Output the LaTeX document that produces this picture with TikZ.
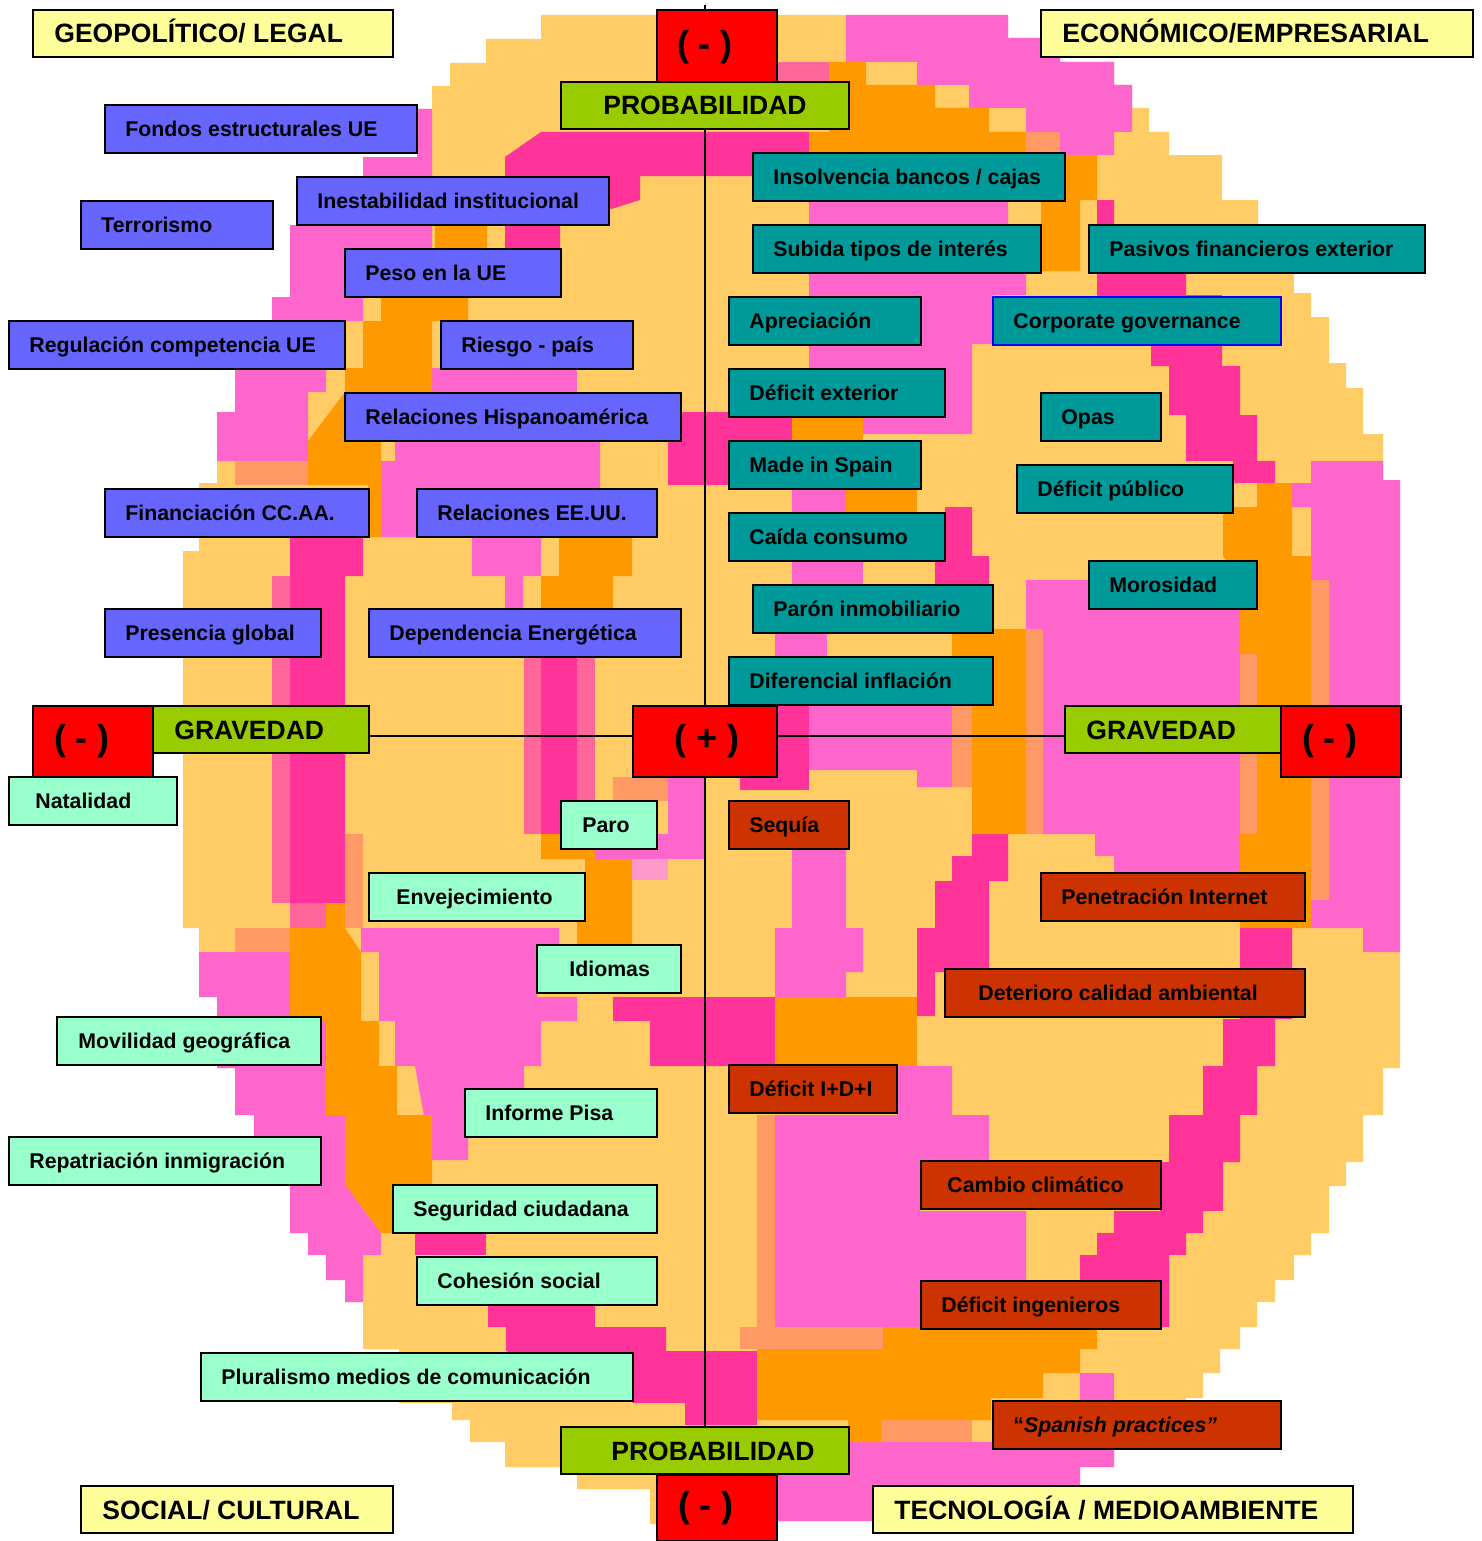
\documentclass[tikz,border=0pt]{standalone}
\usepackage{fontspec}
\setmainfont{Liberation Sans}
\definecolor{cLo}{HTML}{FFCC66}
\definecolor{cPk}{HTML}{FF66CC}
\definecolor{cHp}{HTML}{FF3399}
\definecolor{cOr}{HTML}{FF9900}
\definecolor{cSa}{HTML}{FF9966}
\definecolor{cPr}{HTML}{FF6699}
\definecolor{cLp}{HTML}{FF99CC}
\definecolor{cYe}{HTML}{FFFF99}
\definecolor{cRd}{HTML}{FF0000}
\definecolor{cGr}{HTML}{99CC00}
\definecolor{cBl}{HTML}{6666FF}
\definecolor{cTe}{HTML}{009999}
\definecolor{cMi}{HTML}{99FFCC}
\definecolor{cBr}{HTML}{CC3300}
\definecolor{cBd}{HTML}{0000FF}
\pgfdeclarelayer{bg}
\pgfdeclarelayer{ln}
\pgfsetlayers{bg,ln,main}
\newcommand\lblf{\fontsize{10.65}{12}\selectfont\bfseries}
\newcommand\hdrf{\fontsize{13.25}{15}\selectfont\bfseries}
\newcommand\sgnf{\fontsize{18}{20}\selectfont\bfseries}
\tikzset{
  box/.style={draw=black,line width=0.75pt,inner sep=0pt,outer sep=0pt,rectangle},
  lbl/.style={anchor=base west,inner sep=0pt,font=\lblf},
  hdr/.style={anchor=base west,inner sep=0pt,font=\hdrf},
  sgn/.style={anchor=center,inner sep=0pt,font=\sgnf},
  axis/.style={draw=black,line width=0.6pt}
}
% filled region of the heat map
\newcommand\blob[2]{\fill[#1] plot[sharp cycle] coordinates {#2};}
\newcommand\cell[5]{\fill[#1] (#2,#3) rectangle (#4,#5);}
% labelled box: name, x1, y1, x2, y2, style, text x, text
\newcommand\bx[8]{%
  \node[box,#6,minimum width={(#4-#2)*0.5pt},minimum height={(#5-#3)*0.5pt}] (#1) at ({(#2+#4)/2},{(#3+#5)/2}) {};
  \node[lbl] (#1t) at (#7,{(#3+#5)/2+7.6}) {#8};}
\newcommand\hbx[8]{%
  \node[box,#6,minimum width={(#4-#2)*0.5pt},minimum height={(#5-#3)*0.5pt}] (#1) at ({(#2+#4)/2},{(#3+#5)/2}) {};
  \node[hdr] (#1t) at (#7,{(#3+#5)/2+9.5}) {#8};}
% sign box: name, x1, y1, x2, y2, text x, text y, text
\newcommand\rbx[8]{%
  \node[box,fill=cRd,minimum width={(#4-#2)*0.5pt},minimum height={(#5-#3)*0.5pt}] (#1) at ({(#2+#4)/2},{(#3+#5)/2}) {};
  \node[sgn] (#1t) at (#6,#7) {#8};}
\begin{document}
\begin{tikzpicture}[x=0.5pt,y=-0.5pt]
\useasboundingbox (0,0) rectangle (1482,1541);
\begin{pgfonlayer}{bg}
\fill[white] (0,0) rectangle (1482,1541);
% outer body
\blob{cLo}{(541,15) (1008,15) (1008,38) (1060,38) (1060,62) (1114,62) (1114,85) (1132,85) (1132,108) (1149,108) (1149,132) (1169,132) (1169,155) (1222,155) (1222,200) (1258,200) (1258,273) (1294,273) (1294,293) (1311,293) (1311,317) (1329,317) (1329,363) (1346,363) (1346,388) (1363,388) (1363,434) (1383,434) (1383,480) (1400,480) (1400,1068) (1383,1068) (1383,1115) (1363,1115) (1363,1162) (1346,1162) (1346,1186) (1329,1186) (1329,1233) (1311,1233) (1311,1255) (1294,1255) (1294,1280) (1275,1280) (1275,1302) (1257,1302) (1257,1327) (1240,1327) (1240,1349) (1220,1349) (1220,1373) (1203,1373) (1203,1398) (1186,1398) (1186,1420) (1114,1420) (1114,1467) (1080,1467) (1080,1486) (873,1486) (873,1521) (777,1521) (777,1475) (657,1475) (657,1524) (650,1524) (650,1489) (577,1489) (577,1467) (505,1467) (505,1442) (470,1442) (470,1420) (452,1420) (452,1403) (399,1403) (399,1349) (363,1349) (363,1302) (345,1302) (345,1280) (326,1280) (326,1255) (308,1255) (308,1233) (290,1233) (290,1184) (254,1184) (254,1115) (235,1115) (235,1068) (217,1068) (217,997) (199,997) (199,928) (183,928) (183,551) (199,551) (199,483) (217,483) (217,412) (235,412) (235,370) (272,370) (272,297) (290,297) (290,225) (308,225) (308,177) (363,177) (363,157) (417,157) (417,109) (432,109) (432,86) (450,86) (450,63) (486,63) (486,39) (541,39)}
% pink zones
\blob{cPk}{(846,15) (1008,15) (1008,38) (1060,38) (1060,62) (1114,62) (1114,85) (1132,85) (1132,132) (1114,132) (1114,155) (1060,155) (1060,132) (1026,132) (1026,108) (969,108) (969,85) (917,85) (917,62) (846,62)}
\blob{cPk}{(417,109) (432,109) (432,249) (345,249) (345,297) (363,297) (363,321) (345,321) (345,368) (326,368) (326,392) (308,392) (308,461) (217,461) (217,412) (235,412) (235,370) (272,370) (272,297) (290,297) (290,225) (308,225) (308,177) (363,177) (363,157) (417,157)}
\blob{cPk}{(809,200) (1008,200) (1008,224) (1026,224) (1026,295) (992,295) (992,344) (972,344) (972,434) (809,434)}
\blob{cPk}{(1311,461) (1383,461) (1383,480) (1400,480) (1400,952) (1363,952) (1363,928) (1311,928) (1311,507) (1292,507) (1292,483) (1311,483)}
\blob{cPk}{(1026,580) (1240,580) (1240,881) (1114,881) (1114,856) (1095,856) (1095,834) (1043,834) (1043,629) (1026,629)}
\blob{cPk}{(809,705) (952,705) (952,787) (917,787) (917,770) (809,770)}
\blob{cPk}{(395,441) (600,441) (600,489) (650,489) (650,537) (541,537) (541,576) (523,576) (523,608) (505,608) (505,576) (472,576) (472,537) (381,537) (381,461) (395,461)}
\blob{cPk}{(792,849) (846,849) (846,928) (863,928) (863,972) (846,972) (846,997) (775,997) (775,928) (792,928)}
\blob{cPk}{(897,1066) (952,1066) (952,1115) (989,1115) (989,1162) (920,1162) (920,1211) (1026,1211) (1026,1280) (920,1280) (920,1327) (775,1327) (775,1115) (897,1115)}
\blob{cPk}{(777,1442) (1114,1442) (1114,1467) (1080,1467) (1080,1486) (873,1486) (873,1521) (777,1521)}
\blob{cPk}{(199,952) (290,952) (290,1021) (326,1021) (326,1115) (345,1115) (345,1184) (381,1233) (381,1255) (363,1255) (363,1302) (345,1302) (345,1280) (326,1280) (326,1255) (308,1255) (308,1233) (290,1233) (290,1184) (254,1184) (254,1115) (235,1115) (235,1068) (217,1068) (217,997) (199,997)}
\blob{cPk}{(361,928) (559,928) (559,952) (537,952) (537,997) (577,997) (577,1021) (541,1021) (541,1066) (524,1066) (524,1090) (468,1115) (468,1160) (432,1160) (415,1066) (395,1066) (395,1021) (379,1021) (379,952) (361,952)}
\cell{cPk}{1080}{1373}{1114}{1442}
\cell{cPk}{668}{777}{705}{859}
\cell{cPk}{595}{834}{705}{859}
\cell{cPk}{432}{368}{577}{393}
\cell{cPk}{792}{489}{846}{513}
\cell{cPk}{792}{561}{863}{585}
\cell{cPk}{775}{629}{827}{657}
% transition cells
\cell{cSa}{235}{928}{290}{952}
\cell{cSa}{235}{461}{308}{485}
\cell{cSa}{345}{834}{363}{928}
\cell{cSa}{757}{1115}{775}{1327}
\cell{cSa}{740}{1327}{883}{1349}
\cell{cSa}{881}{1420}{972}{1442}
\cell{cSa}{1026}{629}{1043}{834}
\cell{cSa}{613}{777}{668}{801}
\cell{cSa}{1311}{580}{1329}{900}
\cell{cSa}{1026}{132}{1060}{155}
\cell{cLp}{632}{859}{668}{880}
\cell{cPr}{272}{576}{290}{903}
\cell{cPr}{524}{657}{595}{834}
\cell{cPr}{777}{62}{829}{85}
\cell{cPr}{290}{903}{326}{928}
% hot pink bands
\blob{cHp}{(505,157) (541,132) (809,132) (809,155) (753,155) (753,176) (640,176) (640,200) (560,225) (560,249) (505,249)}
\blob{cHp}{(1097,200) (1114,200) (1114,271) (1186,271) (1186,295) (1222,295) (1222,366) (1240,366) (1240,415) (1257,415) (1257,461) (1275,461) (1275,483) (1233,483) (1233,461) (1186,461) (1186,415) (1169,415) (1169,366) (1151,366) (1151,344) (1097,295)}
\cell{cHp}{740}{705}{809}{790}
\cell{cHp}{541}{657}{577}{834}
\blob{cHp}{(681,412) (792,412) (792,441) (740,441) (740,485) (668,485) (668,441) (681,441)}
\blob{cHp}{(945,507) (972,507) (972,556) (989,556) (989,585) (935,585) (935,561) (945,561)}
\blob{cHp}{(972,834) (1008,834) (1008,881) (989,881) (989,972) (935,972) (935,1016) (917,1016) (917,928) (935,928) (935,881) (952,881) (952,856) (972,856)}
\blob{cHp}{(613,997) (775,997) (775,1066) (650,1066) (650,1021) (613,1021)}
\blob{cHp}{(1240,928) (1292,928) (1292,1019) (1275,1019) (1275,1066) (1257,1066) (1257,1115) (1240,1115) (1240,1162) (1223,1162) (1223,1211) (1203,1211) (1203,1233) (1186,1233) (1186,1255) (1169,1255) (1169,1327) (1097,1327) (1097,1280) (1080,1280) (1080,1255) (1097,1255) (1097,1233) (1114,1233) (1114,1211) (1160,1211) (1160,1162) (1169,1162) (1169,1115) (1203,1115) (1203,1066) (1223,1066) (1223,1019) (1240,1019)}
\blob{cHp}{(488,1304) (595,1304) (595,1327) (666,1327) (666,1351) (757,1351) (757,1425) (685,1425) (685,1403) (634,1403) (506,1351) (506,1327) (488,1327)}
\cell{cHp}{415}{1233}{486}{1255}
\blob{cHp}{(290,537) (363,537) (363,576) (345,576) (345,903) (290,903)}
% orange bands
\blob{cOr}{(435,200) (487,200) (487,297) (468,297) (468,321) (432,321) (432,392) (400,441) (381,441) (381,537) (368,537) (368,485) (308,485) (308,441) (345,392) (345,368) (363,368) (363,321) (381,321) (381,297) (420,297) (420,249) (435,249)}
\blob{cOr}{(829,62) (866,62) (866,85) (935,85) (935,108) (989,108) (989,132) (1026,132) (1026,155) (1097,155) (1097,200) (1080,200) (1080,271) (1041,271) (1041,200) (829,200) (829,155) (809,155) (809,132) (829,132)}
\blob{cOr}{(1257,483) (1292,483) (1292,556) (1311,556) (1311,928) (1240,928) (1240,580) (1223,556) (1223,507) (1257,507)}
\blob{cOr}{(952,629) (1026,629) (1026,834) (972,834) (972,787) (952,787)}
\blob{cOr}{(559,537) (632,537) (632,576) (613,576) (613,608) (541,608) (541,576) (559,576)}
\cell{cOr}{792}{412}{863}{441}
\cell{cOr}{846}{489}{917}{513}
\cell{cOr}{775}{997}{917}{1066}
\blob{cOr}{(757,1349) (883,1349) (883,1327) (1097,1327) (1097,1349) (1080,1349) (1080,1373) (1043,1373) (1043,1398) (991,1398) (991,1420) (881,1420) (881,1442) (848,1442) (848,1420) (757,1420)}
\blob{cOr}{(290,928) (345,928) (361,952) (361,1021) (379,1021) (379,1066) (397,1066) (397,1115) (432,1115) (432,1184) (392,1184) (392,1233) (381,1233) (345,1184) (345,1115) (326,1115) (326,1021) (290,1021)}
\blob{cOr}{(541,834) (595,834) (595,859) (632,859) (632,952) (577,952) (577,921) (585,921) (585,859) (541,859)}
\cell{cOr}{326}{903}{345}{928}
\cell{cSa}{1240}{654}{1257}{834}
\cell{cSa}{952}{705}{972}{787}
\end{pgfonlayer}

% category headers
\hbx{hgeo}{33}{10}{393}{57}{fill=cYe}{54}{GEOPOLÍTICO/ LEGAL}
\hbx{heco}{1041}{10}{1473}{57}{fill=cYe}{1062}{ECONÓMICO/EMPRESARIAL}
\hbx{hsoc}{81}{1486}{393}{1533}{fill=cYe}{102}{SOCIAL/ CULTURAL}
\hbx{htec}{873}{1486}{1353}{1533}{fill=cYe}{894}{TECNOLOGÍA / MEDIOAMBIENTE}

% axis end markers
\rbx{rt}{657}{10}{777}{82}{705}{47}{( - )}
\rbx{rb}{657}{1475}{777}{1541}{706}{1508}{( - )}
\rbx{rc}{633}{706}{777}{777}{707}{741}{( + )}
\rbx{rl}{33}{706}{153}{777}{82}{741}{( - )}
\rbx{rr}{1281}{706}{1401}{777}{1330}{741}{( - )}
\hbx{pt}{561}{82}{849}{129}{fill=cGr}{603}{PROBABILIDAD}
\hbx{pb}{561}{1427}{849}{1474}{fill=cGr}{611}{PROBABILIDAD}
\hbx{gl}{153}{706}{369}{753}{fill=cGr}{174}{GRAVEDAD}
\hbx{gr}{1065}{706}{1281}{753}{fill=cGr}{1086}{GRAVEDAD}

% axes
\coordinate (vt) at (705,5);
\coordinate (vb) at (705,1536);
\coordinate (hy) at (0,736);
\begin{pgfonlayer}{ln}
\draw[axis] (vt) -- (vb);
\draw[axis] (gl.east |- hy) -- (rc.west |- hy);
\draw[axis] (rc.east |- hy) -- (gr.west |- hy);
\end{pgfonlayer}

% geopolitical / legal
\bx{b1}{105}{105}{417}{153}{fill=cBl}{125}{Fondos estructurales UE}
\bx{b2}{81}{201}{273}{249}{fill=cBl}{101}{Terrorismo}
\bx{b3}{297}{177}{609}{225}{fill=cBl}{317}{Inestabilidad institucional}
\bx{b4}{345}{249}{561}{297}{fill=cBl}{365}{Peso en la UE}
\bx{b5}{9}{321}{345}{369}{fill=cBl}{29}{Regulación competencia UE}
\bx{b6}{441}{321}{633}{369}{fill=cBl}{461}{Riesgo - país}
\bx{b7}{345}{393}{681}{441}{fill=cBl}{365}{Relaciones Hispanoamérica}
\bx{b8}{105}{489}{369}{537}{fill=cBl}{125}{Financiación CC.AA.}
\bx{b9}{417}{489}{657}{537}{fill=cBl}{437}{Relaciones EE.UU.}
\bx{b10}{105}{609}{321}{657}{fill=cBl}{125}{Presencia global}
\bx{b11}{369}{609}{681}{657}{fill=cBl}{389}{Dependencia Energética}

% economic / business
\bx{e1}{753}{153}{1065}{201}{fill=cTe}{773}{Insolvencia bancos / cajas}
\bx{e2}{753}{225}{1041}{273}{fill=cTe}{773}{Subida tipos de interés}
\bx{e3}{1089}{225}{1425}{273}{fill=cTe}{1109}{Pasivos financieros exterior}
\bx{e4}{729}{297}{921}{345}{fill=cTe}{749}{Apreciación}
\bx{e5}{993}{297}{1281}{345}{fill=cTe,draw=cBd}{1013}{Corporate governance}
\bx{e6}{729}{369}{945}{417}{fill=cTe}{749}{Déficit exterior}
\bx{e7}{1041}{393}{1161}{441}{fill=cTe}{1061}{Opas}
\bx{e8}{729}{441}{921}{489}{fill=cTe}{749}{Made in Spain}
\bx{e9}{1017}{465}{1233}{513}{fill=cTe}{1037}{Déficit público}
\bx{e10}{729}{513}{945}{561}{fill=cTe}{749}{Caída consumo}
\bx{e11}{1089}{561}{1257}{609}{fill=cTe}{1109}{Morosidad}
\bx{e12}{753}{585}{993}{633}{fill=cTe}{773}{Parón inmobiliario}
\bx{e13}{729}{657}{993}{705}{fill=cTe}{749}{Diferencial inflación}

% social / cultural
\bx{s1}{9}{777}{177}{825}{fill=cMi}{35}{Natalidad}
\bx{s2}{561}{801}{657}{849}{fill=cMi}{582}{Paro}
\bx{s3}{369}{873}{585}{921}{fill=cMi}{396}{Envejecimiento}
\bx{s4}{537}{945}{681}{993}{fill=cMi}{569}{Idiomas}
\bx{s5}{57}{1017}{321}{1065}{fill=cMi}{78}{Movilidad geográfica}
\bx{s6}{465}{1089}{657}{1137}{fill=cMi}{485}{Informe Pisa}
\bx{s7}{9}{1137}{321}{1185}{fill=cMi}{29}{Repatriación inmigración}
\bx{s8}{393}{1185}{657}{1233}{fill=cMi}{413}{Seguridad ciudadana}
\bx{s9}{417}{1257}{657}{1305}{fill=cMi}{437}{Cohesión social}
\bx{s10}{201}{1353}{633}{1401}{fill=cMi}{221}{Pluralismo medios de comunicación}

% technology / environment
\bx{t1}{729}{801}{849}{849}{fill=cBr}{749}{Sequía}
\bx{t2}{1041}{873}{1305}{921}{fill=cBr}{1061}{Penetración Internet}
\bx{t3}{945}{969}{1305}{1017}{fill=cBr}{978}{Deterioro calidad ambiental}
\bx{t4}{729}{1065}{897}{1113}{fill=cBr}{749}{Déficit I+D+I}
\bx{t5}{921}{1161}{1161}{1209}{fill=cBr}{947}{Cambio climático}
\bx{t6}{921}{1281}{1161}{1329}{fill=cBr}{941}{Déficit ingenieros}
\bx{t7}{993}{1401}{1281}{1449}{fill=cBr}{1013}{“\itshape Spanish practices”}
\end{tikzpicture}
\end{document}
